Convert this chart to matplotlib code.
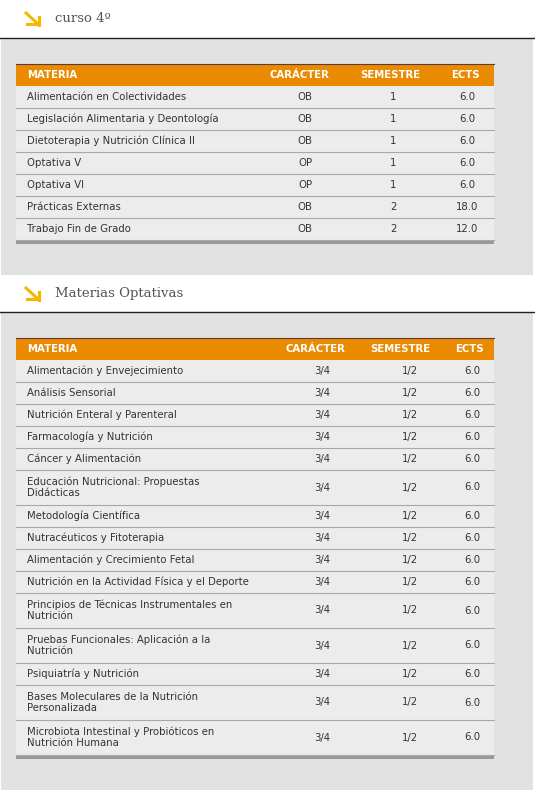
import matplotlib.pyplot as plt
from matplotlib.patches import Rectangle

# table 1 data
curso_materias = ["Alimentación en Colectividades", "Legislación Alimentaria y Deontología",
                  "Dietoterapia y Nutrición Clínica II", "Optativa V", "Optativa VI",
                  "Prácticas Externas", "Trabajo Fin de Grado"]
curso_caracter = ["OB", "OB", "OB", "OP", "OP", "OB", "OB"]
curso_semestre = ["1", "1", "1", "1", "1", "2", "2"]
curso_ects = [6.0, 6.0, 6.0, 6.0, 6.0, 18.0, 12.0]

# table 2 data
opt_materias = ["Alimentación y Envejecimiento", "Análisis Sensorial",
                "Nutrición Enteral y Parenteral", "Farmacología y Nutrición",
                "Cáncer y Alimentación", "Educación Nutricional: Propuestas\nDidácticas",
                "Metodología Científica", "Nutracéuticos y Fitoterapia",
                "Alimentación y Crecimiento Fetal", "Nutrición en la Actividad Física y el Deporte",
                "Principios de Técnicas Instrumentales en\nNutrición",
                "Pruebas Funcionales: Aplicación a la\nNutrición", "Psiquiatría y Nutrición",
                "Bases Moleculares de la Nutrición\nPersonalizada",
                "Microbiota Intestinal y Probióticos en\nNutrición Humana"]
opt_caracter = ["3/4"] * 15
opt_semestre = ["1/2"] * 15
opt_ects = [6.0] * 15

ORANGE = "#ea8a00"
ROW = "#ececec"
BG = "#e2e2e2"
TXT = "#333333"

fig = plt.figure(figsize=(5.35, 7.92), dpi=100)
ax = fig.add_axes([0, 0, 1, 1])
ax.set_xlim(0, 535)
ax.set_ylim(792, 0)
ax.axis("off")


def section(y0, title, y_line, y_bg_end, y_head, materias, car, sem, ects, hx, vx):
    # white title strip with arrow
    ax.plot([26, 38], [13, 24] if False else [y0 + 13, y0 + 24], color="#f5b800", lw=2.2)
    ax.plot([27, 39], [y0 + 24, y0 + 24], color="#f5b800", lw=2.2)
    ax.plot([39, 39], [y0 + 17, y0 + 25], color="#f5b800", lw=2.2)
    ax.text(55, y0 + 18, title, family="DejaVu Serif", fontsize=9.5, color="#555555",
            va="center")
    ax.plot([0, 535], [y_line, y_line], color="#222222", lw=1)
    ax.add_patch(Rectangle((1, y_line + 1), 532, y_bg_end - y_line - 1, color=BG, lw=0))
    ax.add_patch(Rectangle((16, y_head), 478, 22, color=ORANGE, lw=0))
    ax.plot([16, 494], [y_head, y_head], color="#5a3a40", lw=0.8)
    for label, x, ha in [("MATERIA", 27, "left"), ("CARÁCTER", hx[0], "center"),
                         ("SEMESTRE", hx[1], "center"), ("ECTS", hx[2], "center")]:
        ax.text(x, y_head + 11, label, color="white", fontweight="bold", fontsize=7.3,
                ha=ha, va="center")
    y = y_head + 22
    for m, c, s, e in zip(materias, car, sem, ects):
        h = 35 if "\n" in m else 22
        ax.add_patch(Rectangle((16, y), 478, h, color=ROW, lw=0))
        ax.text(27, y + h / 2, m, fontsize=7.3, color=TXT, va="center", linespacing=1.1)
        ax.text(vx[0], y + h / 2, c, fontsize=7.3, color=TXT, va="center", ha="center")
        ax.text(vx[1], y + h / 2, s, fontsize=7.3, color=TXT, va="center", ha="center")
        ax.text(vx[2], y + h / 2, f"{e:.1f}", fontsize=7.3, color=TXT, va="center", ha="center")
        y += h
        ax.plot([16, 494], [y, y], color="#a8a8a8", lw=0.8)
    ax.add_patch(Rectangle((16, y), 478, 4, color="#9a9a9a", lw=0))


section(0, "curso 4º", 38, 275, 64, curso_materias, curso_caracter, curso_semestre,
        curso_ects, (299, 390, 465), (305, 393, 467))
section(275, "Materias Optativas", 312, 790, 338, opt_materias, opt_caracter, opt_semestre,
        opt_ects, (315, 400, 469), (322, 410, 472))

fig.savefig("out.png", dpi=100)
